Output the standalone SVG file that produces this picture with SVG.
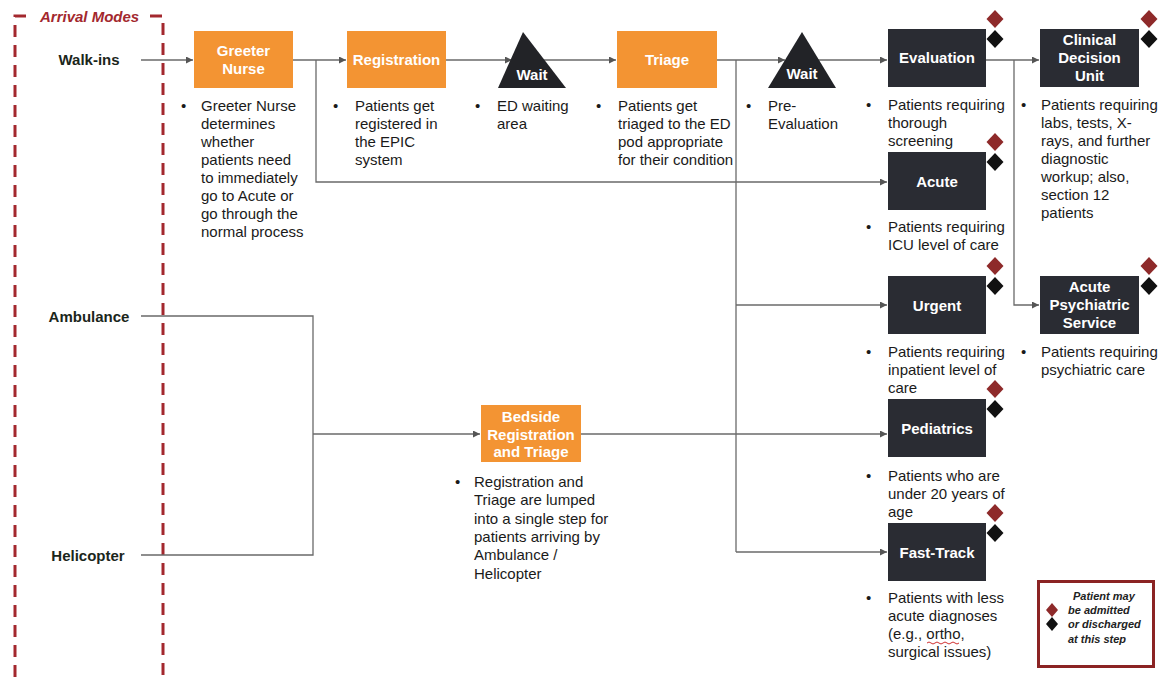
<svg xmlns="http://www.w3.org/2000/svg" width="1164" height="677" viewBox="0 0 1164 677">
<defs>
<style>
.ob{fill:#F39433;}
.db{fill:#2A2C33;}
.tri{fill:#222327;}
.nl{font-family:"Liberation Sans",Arial,sans-serif;font-size:15px;font-weight:bold;fill:#ffffff;text-anchor:middle;}
.d{font-family:"Liberation Sans",Arial,sans-serif;font-size:15px;fill:#1a1a1a;}
.lbl{font-family:"Liberation Sans",Arial,sans-serif;font-size:15px;font-weight:bold;fill:#1b261b;text-anchor:middle;}
.c{fill:none;stroke:#6a6a6a;stroke-width:1.3;}
.ca{fill:none;stroke:#6a6a6a;stroke-width:1.3;marker-end:url(#ah);}
.rd{fill:#8E2A2A;}
.bk{fill:#111111;}
.dash{fill:none;stroke:#A3282E;stroke-width:3;stroke-dasharray:12 8;}
.leg{font-family:"Liberation Sans",Arial,sans-serif;font-size:11px;font-weight:bold;font-style:italic;fill:#222;}
</style>
<marker id="ah" viewBox="0 0 10 10" refX="10" refY="5" markerWidth="8" markerHeight="7" markerUnits="userSpaceOnUse" orient="auto">
<path d="M0,0 L10,5 L0,10 z" fill="#555"/>
</marker>
<path id="dm" d="M0,-9 L8.5,0 L0,9 L-8.5,0 z"/>
<path id="dms" d="M0,-7 L6,0 L0,7 L-6,0 z"/>
</defs>

<g id="arrival-modes">
<path class="dash" d="M15,677 V16 H32"/>
<path class="dash" d="M150,16 H163 V677"/>
<text x="40" y="22" style="font-family:'Liberation Sans',Arial,sans-serif;font-size:15px;font-weight:bold;font-style:italic;fill:#A3282E;">Arrival Modes</text>
<text class="lbl" x="89" y="65">Walk-ins</text>
<text class="lbl" x="89" y="322">Ambulance</text>
<text class="lbl" x="88" y="561">Helicopter</text>
</g>

<g id="connectors">
<path class="ca" d="M141,60 H193"/>
<path class="ca" d="M293,60 H346"/>
<path class="ca" d="M316,60 V182 H887"/>
<path class="ca" d="M446,60 H512"/>
<path class="ca" d="M540,60 H616"/>
<path class="ca" d="M717,60 H785"/>
<path class="c" d="M736,60 V552"/>
<path class="ca" d="M736,305 H887"/>
<path class="ca" d="M736,552 H887"/>
<path class="ca" d="M818,60 H887"/>
<path class="ca" d="M986,60 H1039"/>
<path class="ca" d="M1014,60 V305 H1039"/>
<path class="c" d="M141,316 H313 V555 H141"/>
<path class="ca" d="M313,434 H480"/>
<path class="ca" d="M581,434 H887"/>
</g>

<g id="greeter-nurse">
<rect class="ob" x="194" y="31" width="99" height="57"/>
<text class="nl" x="243.5" y="56">Greeter</text>
<text class="nl" x="243.5" y="74">Nurse</text>
<text class="d" x="181" y="111">•</text>
<text class="d" x="201" y="111"><tspan x="201">Greeter Nurse</tspan><tspan x="201" dy="18">determines</tspan><tspan x="201" dy="18">whether</tspan><tspan x="201" dy="18">patients need</tspan><tspan x="201" dy="18">to immediately</tspan><tspan x="201" dy="18">go to Acute or</tspan><tspan x="201" dy="18">go through the</tspan><tspan x="201" dy="18">normal process</tspan></text>
</g>

<g id="registration">
<rect class="ob" x="347" y="31" width="99" height="57"/>
<text class="nl" x="396.5" y="65">Registration</text>
<text class="d" x="333" y="111">•</text>
<text class="d" x="355" y="111"><tspan x="355">Patients get</tspan><tspan x="355" dy="18">registered in</tspan><tspan x="355" dy="18">the EPIC</tspan><tspan x="355" dy="18">system</tspan></text>
</g>

<g id="wait-1">
<path class="tri" d="M523,32 L566,88 L498,88 z"/>
<text class="nl" x="532" y="80">Wait</text>
<text class="d" x="475" y="111">•</text>
<text class="d" x="497" y="111"><tspan x="497">ED waiting</tspan><tspan x="497" dy="18">area</tspan></text>
</g>

<g id="triage">
<rect class="ob" x="617" y="31" width="100" height="57"/>
<text class="nl" x="667" y="65">Triage</text>
<text class="d" x="596" y="111">•</text>
<text class="d" x="618" y="111"><tspan x="618">Patients get</tspan><tspan x="618" dy="18">triaged to the ED</tspan><tspan x="618" dy="18">pod appropriate</tspan><tspan x="618" dy="18">for their condition</tspan></text>
</g>

<g id="wait-2">
<path class="tri" d="M802,32 L836,88 L768,88 z"/>
<text class="nl" x="802" y="79">Wait</text>
<text class="d" x="746" y="111">•</text>
<text class="d" x="768" y="111"><tspan x="768">Pre-</tspan><tspan x="768" dy="18">Evaluation</tspan></text>
</g>

<g id="evaluation">
<rect class="db" x="888" y="29" width="98" height="58"/>
<text class="nl" x="937" y="63">Evaluation</text>
<use href="#dm" class="rd" x="995" y="19"/>
<use href="#dm" class="bk" x="995" y="39"/>
<text class="d" x="866" y="110">•</text>
<text class="d" x="888" y="110"><tspan x="888">Patients requiring</tspan><tspan x="888" dy="18">thorough</tspan><tspan x="888" dy="18">screening</tspan></text>
</g>

<g id="clinical-decision-unit">
<rect class="db" x="1040" y="29" width="99" height="58"/>
<text class="nl" x="1089.5" y="45">Clinical</text>
<text class="nl" x="1089.5" y="63">Decision</text>
<text class="nl" x="1089.5" y="81">Unit</text>
<use href="#dm" class="rd" x="1149" y="19"/>
<use href="#dm" class="bk" x="1149" y="39"/>
<text class="d" x="1021" y="110">•</text>
<text class="d" x="1041" y="110"><tspan x="1041">Patients requiring</tspan><tspan x="1041" dy="18">labs, tests, X-</tspan><tspan x="1041" dy="18">rays, and further</tspan><tspan x="1041" dy="18">diagnostic</tspan><tspan x="1041" dy="18">workup; also,</tspan><tspan x="1041" dy="18">section 12</tspan><tspan x="1041" dy="18">patients</tspan></text>
</g>

<g id="acute">
<rect class="db" x="888" y="152" width="98" height="58"/>
<text class="nl" x="937" y="187">Acute</text>
<use href="#dm" class="rd" x="995" y="142"/>
<use href="#dm" class="bk" x="995" y="162"/>
<text class="d" x="866" y="232">•</text>
<text class="d" x="888" y="232"><tspan x="888">Patients requiring</tspan><tspan x="888" dy="18">ICU level of care</tspan></text>
</g>

<g id="urgent">
<rect class="db" x="888" y="276" width="98" height="58"/>
<text class="nl" x="937" y="311">Urgent</text>
<use href="#dm" class="rd" x="995" y="266"/>
<use href="#dm" class="bk" x="995" y="286"/>
<text class="d" x="866" y="357">•</text>
<text class="d" x="888" y="357"><tspan x="888">Patients requiring</tspan><tspan x="888" dy="18">inpatient level of</tspan><tspan x="888" dy="18">care</tspan></text>
</g>

<g id="acute-psychiatric-service">
<rect class="db" x="1040" y="276" width="99" height="58"/>
<text class="nl" x="1089.5" y="292">Acute</text>
<text class="nl" x="1089.5" y="310">Psychiatric</text>
<text class="nl" x="1089.5" y="328">Service</text>
<use href="#dm" class="rd" x="1149" y="266"/>
<use href="#dm" class="bk" x="1149" y="286"/>
<text class="d" x="1021" y="357">•</text>
<text class="d" x="1041" y="357"><tspan x="1041">Patients requiring</tspan><tspan x="1041" dy="18">psychiatric care</tspan></text>
</g>

<g id="pediatrics">
<rect class="db" x="888" y="399" width="98" height="58"/>
<text class="nl" x="937" y="434">Pediatrics</text>
<use href="#dm" class="rd" x="995" y="389"/>
<use href="#dm" class="bk" x="995" y="409"/>
<text class="d" x="866" y="481">•</text>
<text class="d" x="888" y="481"><tspan x="888">Patients who are</tspan><tspan x="888" dy="18">under 20 years of</tspan><tspan x="888" dy="18">age</tspan></text>
</g>

<g id="fast-track">
<rect class="db" x="888" y="523" width="98" height="58"/>
<text class="nl" x="937" y="558">Fast-Track</text>
<use href="#dm" class="rd" x="995" y="513"/>
<use href="#dm" class="bk" x="995" y="533"/>
<text class="d" x="866" y="603">•</text>
<text class="d" x="888" y="603"><tspan x="888">Patients with less</tspan><tspan x="888" dy="18">acute diagnoses</tspan><tspan x="888" dy="18">(e.g., ortho,</tspan><tspan x="888" dy="18">surgical issues)</tspan></text>
<path d="M927,643 q2,-2 4,0 t4,0 t4,0 t4,0 t4,0 t4,0 t4,0 t4,0" fill="none" stroke="#d03030" stroke-width="1"/>
</g>

<g id="bedside-registration-triage">
<rect class="ob" x="481" y="405" width="100" height="57"/>
<text class="nl" x="531" y="422">Bedside</text>
<text class="nl" x="531" y="440">Registration</text>
<text class="nl" x="531" y="457">and Triage</text>
<text class="d" x="455" y="487">•</text>
<text class="d" x="474" y="487"><tspan x="474">Registration and</tspan><tspan x="474" dy="18.3">Triage are lumped</tspan><tspan x="474" dy="18.3">into a single step for</tspan><tspan x="474" dy="18.3">patients arriving by</tspan><tspan x="474" dy="18.3">Ambulance /</tspan><tspan x="474" dy="18.3">Helicopter</tspan></text>
</g>

<g id="legend">
<rect x="1038.5" y="581.5" width="115" height="85" fill="#ffffff" stroke="#8B2323" stroke-width="3"/>
<use href="#dms" class="rd" x="1052" y="610"/>
<use href="#dms" class="bk" x="1052" y="624"/>
<text class="leg" x="1073" y="600">Patient may</text>
<text class="leg" x="1068" y="614">be admitted</text>
<text class="leg" x="1068" y="628">or discharged</text>
<text class="leg" x="1068" y="643">at this step</text>
</g>
</svg>
